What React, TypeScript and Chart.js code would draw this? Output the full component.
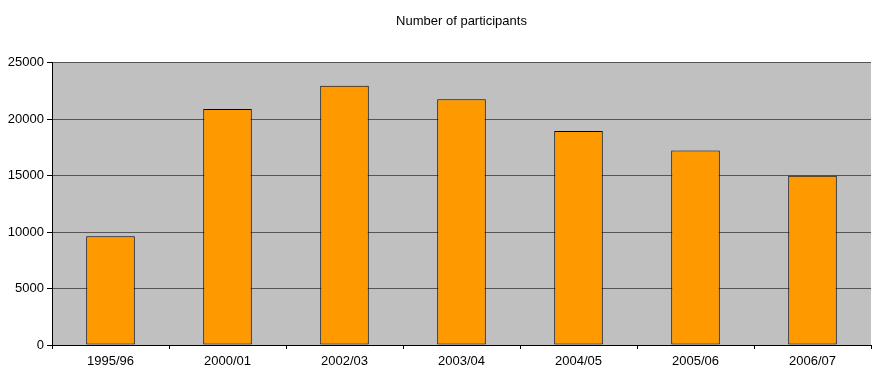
import React, { useEffect, useRef } from "react";
import { Chart, registerables } from "chart.js";

Chart.register(...registerables);

const seasons = ["1995/96", "2000/01", "2002/03", "2003/04", "2004/05", "2005/06", "2006/07"];
const participants = [9620, 20900, 22950, 21750, 18950, 17220, 14980];
const yTicks = [0, 5000, 10000, 15000, 20000, 25000];
const chartTitle = "Number of participants";

const FONT = "'Liberation Sans', Arial, sans-serif";

// Fills the plotting area with a flat grey before the grid and bars are drawn
const plotBackground = {
  id: "plotBackground",
  beforeDraw(chart: Chart) {
    const { ctx, chartArea } = chart;
    ctx.save();
    ctx.fillStyle = "#C0C0C0";
    ctx.fillRect(chartArea.left, chartArea.top, chartArea.right - chartArea.left, chartArea.bottom - chartArea.top);
    ctx.restore();
  },
};

export default function App() {
  const canvasRef = useRef<HTMLCanvasElement | null>(null);

  useEffect(() => {
    document.body.style.margin = "0";
    const canvas = canvasRef.current;
    if (!canvas) return;
    const chart = new Chart(canvas, {
      type: "bar",
      data: {
        labels: seasons,
        datasets: [
          {
            data: participants,
            backgroundColor: "#FF9900",
            borderColor: "#000000",
            borderWidth: 1,
            borderSkipped: false,
            barPercentage: 0.415,
            categoryPercentage: 1,
          },
        ],
      },
      options: {
        responsive: false,
        animation: false,
        layout: { padding: { left: 0, right: 2, top: 0, bottom: 0 } },
        plugins: {
          legend: { display: false },
          tooltip: { enabled: false },
          title: {
            display: true,
            text: chartTitle,
            fullSize: false,
            color: "#000000",
            font: { family: FONT, size: 13, weight: "normal" },
            padding: { top: 14, bottom: 33 },
          },
        },
        scales: {
          x: {
            offset: true,
            grid: {
              offset: true,
              drawOnChartArea: false,
              drawTicks: true,
              tickLength: 4,
              color: "#000000",
            },
            border: { display: true, color: "#000000", width: 1 },
            ticks: {
              color: "#000000",
              font: { family: FONT, size: 13 },
              padding: 5,
              maxRotation: 0,
            },
            afterFit(scale: any) {
              scale.height = 27;
            },
          },
          y: {
            min: 0,
            max: 25000,
            afterBuildTicks(scale: any) {
              scale.ticks = yTicks.map((v) => ({ value: v }));
            },
            grid: {
              color: "#555555",
              tickColor: "#000000",
              tickLength: 5,
              drawTicks: true,
            },
            border: { display: true, color: "#000000", width: 1 },
            ticks: {
              color: "#000000",
              font: { family: FONT, size: 13 },
              padding: 3,
              callback: (v: any) => String(v),
            },
            afterFit(scale: any) {
              scale.width = 52;
            },
          },
        },
      },
      plugins: [plotBackground],
    });
    return () => chart.destroy();
  }, []);

  return (
    <div style={{ position: "fixed", left: 0, top: 0, width: 873, height: 372, background: "#ffffff" }}>
      <canvas ref={canvasRef} width={873} height={372} />
    </div>
  );
}
